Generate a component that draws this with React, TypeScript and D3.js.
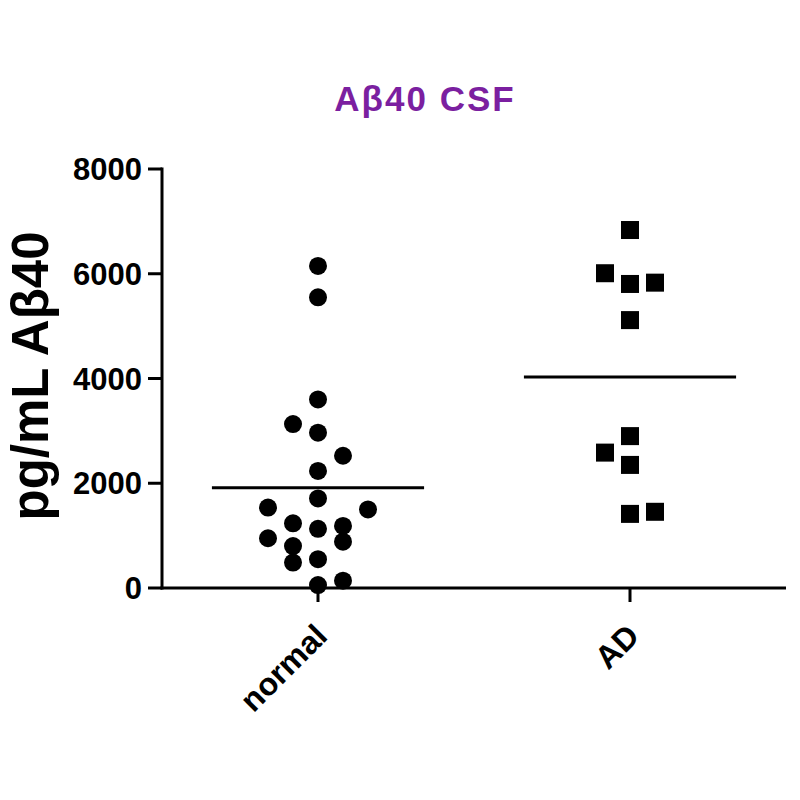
import * as d3 from 'd3';

// values (pg/mL Aβ40)
const categories = ['normal', 'AD'];

const normalValues = [
  6150, 5550, 3600, 3130, 2965, 2525, 2235, 1710, 1535, 1500, 1235, 1130, 1185, 950, 885, 800,
  485, 550, 140, 55,
];
// column slot of each dot in the scatter (-2 .. 2)
const normalSlots = [0, 0, 0, -1, 0, 1, 0, 0, -2, 2, -1, 0, 1, -2, 1, -1, -1, 0, 1, 0];

const adValues = [6835, 6010, 5805, 5830, 5115, 2900, 2585, 2350, 1415, 1455];
const adSlots = [0, -1, 0, 1, 0, 0, -1, 0, 0, 1];

const yTicks = [0, 2000, 4000, 6000, 8000];

const title = 'Aβ40 CSF';
const yLabel = 'pg/mL Aβ40';

const font = '"Liberation Sans", Arial, Helvetica, sans-serif';

export default function App(): React.ReactNode {
  const width = 800;
  const height = 800;
  const left = 162;
  const right = 786;
  const top = 169;
  const bottom = 588;

  const x = d3.scalePoint<string>().domain(categories).range([left, right]).padding(0.5);
  const y = d3.scaleLinear().domain([0, 8000]).range([bottom, top]);
  const slot = d3.scaleLinear().domain([-1, 1]).range([-25, 25]);
  const halfMean = x.step() * 0.34;

  const groups = [
    { name: 'normal', values: normalValues, slots: normalSlots, shape: 'circle' },
    { name: 'AD', values: adValues, slots: adSlots, shape: 'square' },
  ];

  const size = 18;

  return (
    <svg
      width={width}
      height={height}
      style={{ position: 'absolute', left: 0, top: 0, background: '#fff' }}
      fontFamily={font}
      fontWeight="bold"
    >
      <text x={425} y={111} textAnchor="middle" fontSize={35} letterSpacing={2} fill="#7b1fa0">
        {title}
      </text>

      {/* y axis */}
      <line x1={left} x2={left} y1={top - 1.5} y2={bottom + 1.5} stroke="#000" strokeWidth={3} />
      {yTicks.map((t) => (
        <g key={t}>
          <line x1={left - 14} x2={left} y1={y(t)} y2={y(t)} stroke="#000" strokeWidth={3} />
          <text x={142} y={y(t)} dy="0.36em" textAnchor="end" fontSize={31} fill="#000">
            {t}
          </text>
        </g>
      ))}
      <text
        transform={`translate(48,376) rotate(-90)`}
        textAnchor="middle"
        fontSize={51}
        fill="#000"
      >
        {yLabel}
      </text>

      {/* x axis */}
      <line x1={left - 1.5} x2={right} y1={bottom} y2={bottom} stroke="#000" strokeWidth={3} />
      {categories.map((c) => (
        <g key={c}>
          <line x1={x(c)} x2={x(c)} y1={bottom} y2={bottom + 14} stroke="#000" strokeWidth={3} />
          <text
            transform={`translate(${(x(c) ?? 0) + 11},${bottom + 50}) rotate(-45)`}
            textAnchor="end"
            fontSize={32}
            fill="#000"
          >
            {c}
          </text>
        </g>
      ))}

      {/* points and means */}
      {groups.map((g) => {
        const cx = x(g.name) ?? 0;
        const m = d3.mean(g.values) ?? 0;
        return (
          <g key={g.name}>
            {g.values.map((v, i) =>
              g.shape === 'circle' ? (
                <circle key={i} cx={cx + slot(g.slots[i])} cy={y(v)} r={size / 2} fill="#000" />
              ) : (
                <rect
                  key={i}
                  x={cx + slot(g.slots[i]) - size / 2}
                  y={y(v) - size / 2}
                  width={size}
                  height={size}
                  fill="#000"
                />
              ),
            )}
            <line
              x1={cx - halfMean}
              x2={cx + halfMean}
              y1={y(m)}
              y2={y(m)}
              stroke="#000"
              strokeWidth={3}
            />
          </g>
        );
      })}
    </svg>
  );
}
